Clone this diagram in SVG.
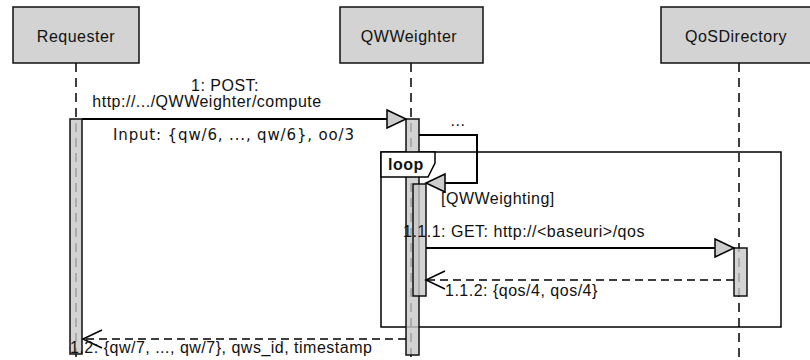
<svg xmlns="http://www.w3.org/2000/svg" width="810" height="360" viewBox="0 0 810 360">
<style>
.box{fill:#d3d3d3;stroke:#111;stroke-width:1.5}
.life{stroke:#000;stroke-width:1.5;stroke-dasharray:9 6;fill:none}
.bar{fill:#c8c8c8;fill-opacity:0.8;stroke:#111;stroke-width:1.5}
.msg{stroke:#000;stroke-width:2;fill:none}
.ret{stroke:#000;stroke-width:1.5;fill:none;stroke-dasharray:8 5}
.frame{fill:none;stroke:#000;stroke-width:1.5}
text{font-family:"Liberation Sans",Arial,Helvetica,sans-serif;font-size:16px;letter-spacing:0.5px;fill:#111}
.mid{text-anchor:middle}
.inp{font-family:"DejaVu Sans","Lucida Grande",sans-serif;font-size:15px;letter-spacing:0.85px}
.bold{font-weight:bold}
</style>
<defs>
<marker id="tri" markerUnits="userSpaceOnUse" viewBox="0 0 22 22" markerWidth="22" markerHeight="22" refX="20" refY="10" orient="auto">
<path d="M1,1 L20,10 L1,19 Z" fill="#cccccc" stroke="#000" stroke-width="1.5" stroke-dasharray="none"/>
</marker>
<marker id="open" markerUnits="userSpaceOnUse" viewBox="0 0 22 22" markerWidth="22" markerHeight="22" refX="20" refY="10" orient="auto">
<path d="M1,1 L20,10 L1,19" fill="none" stroke="#000" stroke-width="1.5" stroke-dasharray="none"/>
</marker>
</defs>
<rect width="810" height="360" fill="#fff"/>
<g id="lifelines">
<line class="life" x1="76" y1="63" x2="76" y2="360"/>
<line class="life" x1="411" y1="63" x2="411" y2="360"/>
<line class="life" x1="739" y1="63" x2="739" y2="360"/>
</g>
<g id="loop-frame">
<rect class="frame" x="381" y="152" width="400" height="175"/>
</g>
<g id="Requester">
<rect class="box" x="13" y="7" width="126" height="56"/>
<text class="mid" x="76" y="42">Requester</text>
<rect class="bar" x="70" y="119" width="12" height="235"/>
</g>
<g id="QWWeighter">
<rect class="box" x="340" y="7" width="143" height="56"/>
<text class="mid" x="409" y="42">QWWeighter</text>
<rect class="bar" x="406" y="119" width="13" height="236"/>
<rect class="bar" x="413" y="184" width="13" height="112"/>
</g>
<g id="QoSDirectory">
<rect class="box" x="661" y="7" width="152" height="56"/>
<text class="mid" x="736" y="42">QoSDirectory</text>
<rect class="bar" x="734" y="248" width="13" height="48"/>
</g>
<g id="loop-label">
<path d="M381,152 H435 V163 L428,177 H381 Z" fill="#fff" stroke="#000" stroke-width="1.5"/>
<text class="bold" x="388" y="170">loop</text>
</g>
<g id="connectors">
<line class="msg" x1="82" y1="119" x2="406" y2="119" marker-end="url(#tri)"/>
<path class="msg" d="M419,135 H477 V183 H426" marker-end="url(#tri)"/>
<line class="msg" x1="426" y1="248" x2="734" y2="248" marker-end="url(#tri)"/>
<line class="ret" x1="734" y1="280" x2="426" y2="280" marker-end="url(#open)"/>
<line class="ret" x1="406" y1="339" x2="83" y2="339" marker-end="url(#open)"/>
</g>
<g id="labels">
<text class="mid" x="225" y="91">1: POST:</text>
<text class="mid" x="207" y="107">http://.../QWWeighter/compute</text>
<text class="inp" x="113" y="140">Input: {qw/6, ..., qw/6}, oo/3</text>
<text class="mid" x="458" y="126">...</text>
<text x="441" y="204">[QWWeighting]</text>
<text x="403" y="237">1.1.1: GET: http://&lt;baseuri&gt;/qos</text>
<text x="445" y="296">1.1.2: {qos/4, qos/4}</text>
<text x="70" y="353">1.2: {qw/7, ..., qw/7}, qws_id, timestamp</text>
</g>
</svg>
